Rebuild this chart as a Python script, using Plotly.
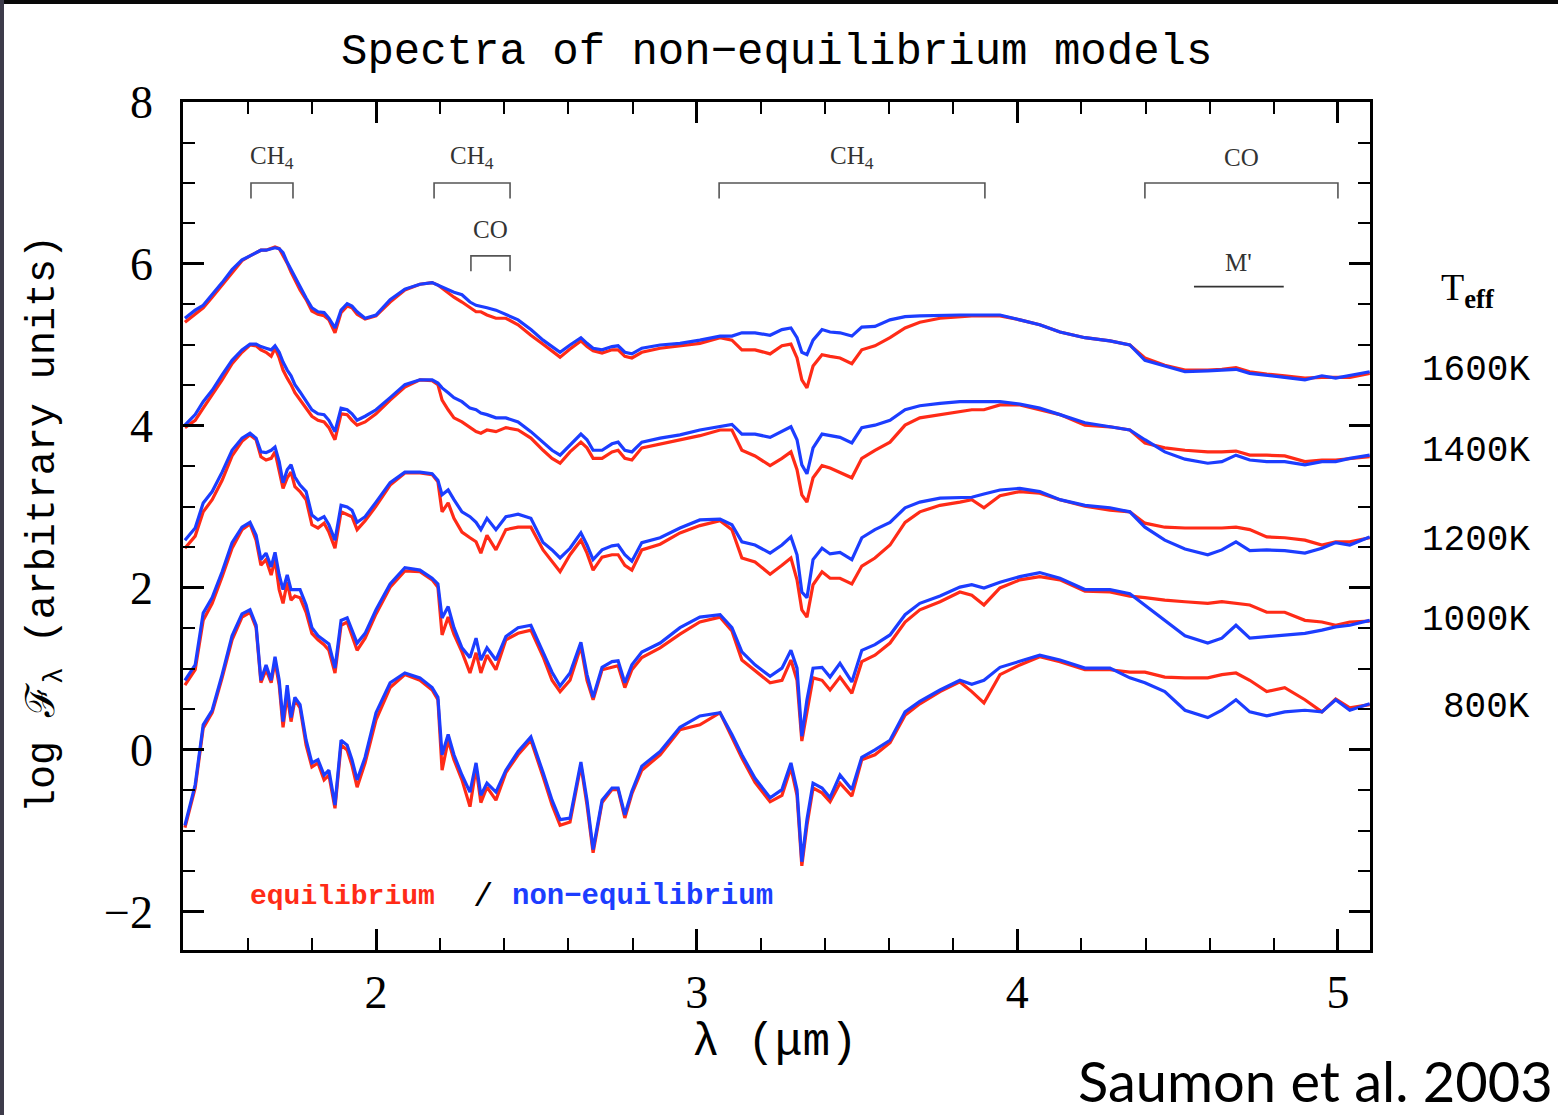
import plotly.graph_objects as go

# ---------------- data ----------------
wavelength = [
    1.404, 1.436, 1.461, 1.489, 1.520, 1.551, 1.582, 1.607, 1.626, 1.641,
    1.657, 1.673, 1.685, 1.698, 1.710, 1.723, 1.735, 1.747, 1.763, 1.782,
    1.800, 1.819, 1.838, 1.853, 1.872, 1.891, 1.910, 1.925, 1.941, 1.966,
    2.000, 2.044, 2.090, 2.137, 2.175, 2.193, 2.206, 2.225, 2.243, 2.268,
    2.293, 2.312, 2.327, 2.346, 2.374, 2.405, 2.443, 2.483, 2.521, 2.549,
    2.574, 2.605, 2.639, 2.658, 2.677, 2.705, 2.736, 2.755, 2.776, 2.798,
    2.829, 2.886, 2.948, 3.010, 3.073, 3.110, 3.141, 3.182, 3.229, 3.266,
    3.294, 3.313, 3.328, 3.344, 3.363, 3.391, 3.416, 3.447, 3.484, 3.515,
    3.556, 3.603, 3.650, 3.696, 3.759, 3.821, 3.858, 3.896, 3.946, 4.008,
    4.070, 4.133, 4.211, 4.289, 4.351, 4.398, 4.460, 4.523, 4.594, 4.638,
    4.682, 4.725, 4.778, 4.834, 4.897, 4.950, 4.993, 5.037, 5.099,
]

noneq_1600 = [
    5.33, 5.43, 5.49, 5.62, 5.77, 5.93, 6.05, 6.10, 6.14, 6.17,
    6.17, 6.19, 6.20, 6.19, 6.14, 6.02, 5.93, 5.83, 5.72, 5.58,
    5.46, 5.41, 5.40, 5.33, 5.21, 5.43, 5.51, 5.48, 5.41, 5.33,
    5.37, 5.56, 5.69, 5.75, 5.77, 5.74, 5.72, 5.69, 5.65, 5.62,
    5.53, 5.49, 5.48, 5.46, 5.43, 5.38, 5.31, 5.19, 5.06, 4.98,
    4.91, 5.00, 5.09, 5.02, 4.96, 4.94, 4.98, 4.99, 4.91, 4.89,
    4.96, 5.00, 5.02, 5.06, 5.11, 5.11, 5.15, 5.15, 5.12, 5.19,
    5.21, 5.09, 4.91, 4.88, 5.06, 5.19, 5.16, 5.15, 5.11, 5.22,
    5.23, 5.31, 5.35, 5.36, 5.37, 5.37, 5.37, 5.37, 5.37, 5.31,
    5.25, 5.16, 5.09, 5.05, 5.00, 4.81, 4.74, 4.67, 4.68, 4.69,
    4.70, 4.65, 4.63, 4.60, 4.57, 4.62, 4.59, 4.62, 4.67,
]
eq_1600 = [
    5.28, 5.38, 5.46, 5.59, 5.74, 5.90, 6.04, 6.10, 6.14, 6.17,
    6.17, 6.19, 6.21, 6.19, 6.11, 6.01, 5.90, 5.80, 5.68, 5.56,
    5.42, 5.38, 5.36, 5.31, 5.15, 5.40, 5.48, 5.46, 5.38, 5.32,
    5.36, 5.53, 5.68, 5.75, 5.77, 5.74, 5.70, 5.65, 5.59, 5.53,
    5.46, 5.41, 5.41, 5.37, 5.33, 5.33, 5.25, 5.12, 5.01, 4.93,
    4.85, 4.95, 5.05, 4.98, 4.93, 4.90, 4.94, 4.94, 4.86, 4.84,
    4.91, 4.96, 4.99, 5.02, 5.09, 5.06, 4.94, 4.94, 4.89, 4.99,
    5.01, 4.84, 4.57, 4.47, 4.74, 4.88, 4.86, 4.84, 4.77, 4.94,
    4.99, 5.09, 5.21, 5.28, 5.33, 5.35, 5.36, 5.36, 5.36, 5.31,
    5.25, 5.16, 5.09, 5.05, 5.00, 4.84, 4.75, 4.69, 4.69, 4.70,
    4.72, 4.67, 4.64, 4.62, 4.59, 4.60, 4.60, 4.60, 4.65,
]

noneq_1400 = [
    4.01, 4.14, 4.30, 4.44, 4.63, 4.81, 4.94, 5.01, 5.01, 4.98,
    4.96, 4.94, 4.99, 4.91, 4.79, 4.69, 4.62, 4.51, 4.42, 4.30,
    4.20, 4.15, 4.14, 4.07, 3.93, 4.22, 4.20, 4.15, 4.07, 4.12,
    4.20, 4.35, 4.51, 4.57, 4.57, 4.53, 4.47, 4.41, 4.35, 4.30,
    4.22, 4.20, 4.16, 4.14, 4.10, 4.10, 4.05, 3.93, 3.80, 3.70,
    3.64, 3.77, 3.90, 3.83, 3.70, 3.70, 3.78, 3.80, 3.70, 3.68,
    3.80, 3.85, 3.89, 3.95, 4.00, 4.02, 3.90, 3.90, 3.86, 3.93,
    3.99, 3.83, 3.52, 3.41, 3.73, 3.90, 3.88, 3.86, 3.79, 3.98,
    4.01, 4.07, 4.20, 4.25, 4.28, 4.30, 4.30, 4.30, 4.30, 4.27,
    4.22, 4.14, 4.04, 3.99, 3.95, 3.83, 3.68, 3.59, 3.54, 3.56,
    3.64, 3.58, 3.56, 3.56, 3.52, 3.56, 3.56, 3.60, 3.64,
]
eq_1400 = [
    3.98, 4.07, 4.22, 4.38, 4.57, 4.77, 4.91, 5.00, 4.99, 4.94,
    4.91, 4.86, 4.96, 4.84, 4.69, 4.59, 4.51, 4.41, 4.32, 4.22,
    4.12, 4.07, 4.05, 3.98, 3.83, 4.15, 4.14, 4.07, 4.01, 4.05,
    4.15, 4.32, 4.48, 4.57, 4.56, 4.51, 4.32, 4.20, 4.10, 4.05,
    3.98, 3.93, 3.91, 3.95, 3.93, 3.98, 3.95, 3.85, 3.70, 3.60,
    3.54, 3.68, 3.80, 3.73, 3.60, 3.60, 3.68, 3.70, 3.60, 3.58,
    3.73, 3.78, 3.83, 3.88, 3.95, 3.95, 3.70, 3.63, 3.51, 3.60,
    3.68, 3.46, 3.15, 3.06, 3.36, 3.51, 3.48, 3.43, 3.36, 3.60,
    3.70, 3.80, 4.01, 4.10, 4.14, 4.17, 4.20, 4.20, 4.26, 4.26,
    4.20, 4.14, 4.01, 3.99, 3.95, 3.79, 3.73, 3.70, 3.68, 3.68,
    3.69, 3.64, 3.64, 3.63, 3.56, 3.58, 3.58, 3.60, 3.62,
]

noneq_1200 = [
    2.59, 2.74, 3.05, 3.19, 3.43, 3.70, 3.85, 3.91, 3.85, 3.68,
    3.67, 3.70, 3.74, 3.56, 3.30, 3.46, 3.52, 3.37, 3.27, 3.19,
    2.90, 2.84, 2.88, 2.78, 2.59, 3.02, 3.00, 2.96, 2.81, 2.88,
    3.06, 3.30, 3.43, 3.43, 3.41, 3.33, 3.15, 3.21, 3.09, 2.94,
    2.88, 2.81, 2.72, 2.86, 2.72, 2.88, 2.91, 2.86, 2.56, 2.47,
    2.37, 2.49, 2.68, 2.53, 2.35, 2.47, 2.52, 2.53, 2.41, 2.33,
    2.56, 2.62, 2.74, 2.84, 2.85, 2.78, 2.57, 2.53, 2.43, 2.53,
    2.63, 2.41, 1.95, 1.88, 2.35, 2.49, 2.42, 2.44, 2.35, 2.62,
    2.72, 2.81, 2.99, 3.06, 3.11, 3.12, 3.12, 3.16, 3.21, 3.23,
    3.19, 3.09, 3.02, 2.99, 2.94, 2.75, 2.59, 2.48, 2.41, 2.47,
    2.57, 2.46, 2.47, 2.46, 2.43, 2.49, 2.56, 2.53, 2.63,
]
eq_1200 = [
    2.49, 2.64, 2.94, 3.09, 3.33, 3.63, 3.81, 3.89, 3.83, 3.62,
    3.58, 3.60, 3.68, 3.46, 3.23, 3.36, 3.43, 3.25, 3.19, 3.09,
    2.78, 2.74, 2.80, 2.69, 2.49, 2.94, 2.91, 2.88, 2.72, 2.83,
    3.01, 3.27, 3.42, 3.42, 3.40, 3.31, 2.94, 3.05, 2.86, 2.69,
    2.62, 2.57, 2.43, 2.65, 2.47, 2.72, 2.75, 2.75, 2.47, 2.32,
    2.20, 2.41, 2.59, 2.43, 2.22, 2.38, 2.41, 2.41, 2.28, 2.22,
    2.47, 2.54, 2.68, 2.77, 2.83, 2.72, 2.37, 2.32, 2.17, 2.28,
    2.37, 2.10, 1.73, 1.64, 2.04, 2.20, 2.12, 2.12, 2.05, 2.27,
    2.37, 2.53, 2.81, 2.94, 3.02, 3.06, 3.09, 2.99, 3.14, 3.19,
    3.17, 3.09, 3.01, 2.96, 2.94, 2.80, 2.75, 2.74, 2.74, 2.74,
    2.75, 2.72, 2.63, 2.62, 2.59, 2.53, 2.57, 2.57, 2.62,
]

noneq_1000 = [
    0.86, 1.05, 1.69, 1.88, 2.20, 2.56, 2.75, 2.81, 2.65, 2.35,
    2.43, 2.26, 2.44, 2.16, 1.98, 2.16, 1.98, 1.98, 1.98, 1.79,
    1.51, 1.41, 1.36, 1.31, 1.01, 1.60, 1.63, 1.48, 1.32, 1.44,
    1.73, 2.05, 2.25, 2.22, 2.12, 2.05, 1.63, 1.77, 1.51, 1.26,
    1.14, 1.38, 1.11, 1.26, 1.11, 1.40, 1.51, 1.54, 1.21, 0.96,
    0.79, 0.95, 1.33, 0.93, 0.65, 1.02, 1.09, 1.10, 0.83, 1.05,
    1.21, 1.32, 1.51, 1.64, 1.67, 1.51, 1.21, 1.05, 0.91, 1.01,
    1.23, 1.01, 0.17, 0.62, 1.01, 1.02, 0.90, 1.07, 0.84, 1.23,
    1.30, 1.42, 1.67, 1.81, 1.90, 2.01, 2.04, 2.00, 2.07, 2.14,
    2.19, 2.12, 1.98, 1.98, 1.93, 1.79, 1.60, 1.41, 1.32, 1.38,
    1.54, 1.38, 1.40, 1.42, 1.44, 1.48, 1.52, 1.54, 1.60,
]
eq_1000 = [
    0.80, 0.99, 1.60, 1.81, 2.14, 2.49, 2.72, 2.79, 2.59, 2.28,
    2.35, 2.16, 2.35, 1.98, 1.81, 2.07, 1.85, 1.90, 1.88, 1.70,
    1.44, 1.36, 1.30, 1.23, 0.95, 1.54, 1.58, 1.41, 1.23, 1.38,
    1.68, 2.01, 2.21, 2.20, 2.10, 2.01, 1.42, 1.64, 1.43, 1.21,
    0.95, 1.20, 0.95, 1.17, 0.99, 1.36, 1.44, 1.48, 1.15, 0.86,
    0.72, 0.86, 1.28, 0.86, 0.62, 0.99, 1.02, 1.04, 0.77, 0.99,
    1.14, 1.26, 1.43, 1.58, 1.64, 1.47, 1.11, 0.98, 0.83, 0.86,
    1.11, 0.86, 0.11, 0.47, 0.89, 0.86, 0.74, 0.90, 0.70, 1.09,
    1.17, 1.32, 1.58, 1.73, 1.83, 1.95, 1.91, 1.79, 2.00, 2.10,
    2.14, 2.10, 1.96, 1.95, 1.90, 1.88, 1.85, 1.83, 1.81, 1.83,
    1.81, 1.79, 1.70, 1.70, 1.60, 1.58, 1.54, 1.58, 1.59,
]

noneq_800 = [
    -0.93, -0.43, 0.31, 0.49, 0.93, 1.41, 1.68, 1.73, 1.54, 0.86,
    1.05, 0.86, 1.15, 0.86, 0.35, 0.80, 0.40, 0.65, 0.56, 0.12,
    -0.16, -0.12, -0.31, -0.25, -0.68, 0.12, 0.06, -0.12, -0.37, -0.09,
    0.46, 0.83, 0.95, 0.89, 0.77, 0.65, -0.06, 0.19, -0.06, -0.31,
    -0.52, -0.16, -0.56, -0.41, -0.52, -0.25, -0.02, 0.16, -0.28, -0.62,
    -0.86, -0.84, -0.15, -0.62, -1.23, -0.62, -0.47, -0.47, -0.80, -0.51,
    -0.20, -0.02, 0.28, 0.42, 0.46, 0.19, -0.06, -0.35, -0.59, -0.49,
    -0.16, -0.49, -1.38, -0.86, -0.41, -0.47, -0.59, -0.31, -0.49, -0.09,
    0.00, 0.12, 0.47, 0.60, 0.74, 0.86, 0.81, 0.86, 1.02, 1.09,
    1.17, 1.11, 1.01, 1.01, 0.89, 0.83, 0.72, 0.49, 0.40, 0.49,
    0.62, 0.47, 0.42, 0.47, 0.49, 0.47, 0.62, 0.49, 0.57,
]
eq_800 = [
    -0.96, -0.47, 0.27, 0.46, 0.89, 1.36, 1.64, 1.70, 1.51, 0.83,
    0.99, 0.83, 1.09, 0.80, 0.28, 0.68, 0.35, 0.62, 0.52, 0.06,
    -0.21, -0.16, -0.37, -0.31, -0.72, 0.06, 0.00, -0.19, -0.46, -0.16,
    0.37, 0.77, 0.93, 0.86, 0.74, 0.62, -0.25, 0.12, -0.12, -0.37,
    -0.70, -0.22, -0.65, -0.46, -0.62, -0.28, -0.06, 0.12, -0.33, -0.68,
    -0.93, -0.89, -0.19, -0.68, -1.27, -0.65, -0.49, -0.49, -0.84, -0.54,
    -0.25, -0.06, 0.25, 0.31, 0.46, 0.15, -0.10, -0.40, -0.64, -0.56,
    -0.22, -0.56, -1.43, -0.93, -0.47, -0.53, -0.64, -0.41, -0.57, -0.12,
    -0.06, 0.09, 0.43, 0.57, 0.72, 0.84, 0.72, 0.58, 0.93, 1.05,
    1.15, 1.09, 0.99, 0.99, 0.96, 0.96, 0.90, 0.89, 0.89, 0.93,
    0.95, 0.86, 0.72, 0.77, 0.62, 0.47, 0.63, 0.52, 0.56,
]

temperatures = ["1600K", "1400K", "1200K", "1000K", "800K"]
label_levels = [4.69, 3.68, 2.59, 1.60, 0.52]   # log F where each label sits
eq_series = [eq_1600, eq_1400, eq_1200, eq_1000, eq_800]
noneq_series = [noneq_1600, noneq_1400, noneq_1200, noneq_1000, noneq_800]

# absorption band markers: (label, lambda start, lambda end, level)
band_labels = ["CH<sub>4</sub>", "CH<sub>4</sub>", "CO", "CH<sub>4</sub>", "CO"]
band_start = [1.610, 2.181, 2.296, 3.070, 4.398]
band_end = [1.741, 2.418, 2.418, 3.899, 5.000]
band_level = [7.00, 7.00, 6.10, 7.00, 7.00]
filter_label = "M'"
filter_start, filter_end, filter_level = 4.551, 4.831, 5.72

x_range = [1.398, 5.10]
y_range = [-2.47, 8.0]

# ---------------- figure ----------------
W, H = 1558, 1115
ML, MR, MT, MB = 183, 188, 102, 165
PW, PH = W - ML - MR, H - MT - MB


def px_x(px):
    return (px - ML) / PW


def px_y(py):
    return (H - MB - py) / PH


RED = "#ff2b17"
BLUE = "#1c3dff"

for s in eq_series + noneq_series:
    assert len(s) == len(wavelength), len(s)

fig = go.Figure()
for t, eq in zip(temperatures, eq_series):
    fig.add_trace(go.Scatter(x=wavelength, y=eq, mode="lines", name=f"equilibrium {t}",
                             line=dict(color=RED, width=3.2), showlegend=False))
for t, ne in zip(temperatures, noneq_series):
    fig.add_trace(go.Scatter(x=wavelength, y=ne, mode="lines", name=f"non-equilibrium {t}",
                             line=dict(color=BLUE, width=3.2), showlegend=False))

shapes = []
annotations = []
GRAY = "#555555"
leg = 0.19
for lab, a, b, lv in zip(band_labels, band_start, band_end, band_level):
    shapes.append(dict(type="path", xref="x", yref="y",
                       path=f"M {a} {lv-leg} L {a} {lv} L {b} {lv} L {b} {lv-leg}",
                       line=dict(color=GRAY, width=1.6)))
    annotations.append(dict(x=(a + b) / 2, y=lv + 0.32, xref="x", yref="y", text=lab,
                            xanchor="center", yanchor="middle", showarrow=False,
                            font=dict(family="Liberation Serif", size=25, color="#333333")))
shapes.append(dict(type="line", xref="x", yref="y", x0=filter_start, x1=filter_end,
                   y0=filter_level, y1=filter_level, line=dict(color="#333333", width=1.6)))
annotations.append(dict(x=(filter_start + filter_end) / 2, y=filter_level + 0.30, xref="x", yref="y",
                        text=filter_label, xanchor="center", yanchor="middle", showarrow=False,
                        font=dict(family="Liberation Serif", size=25, color="#333333")))

# temperature labels on the right
for t, lv in zip(temperatures, label_levels):
    annotations.append(dict(x=px_x(1532), y=lv, xref="paper", yref="y", text=t,
                            xanchor="right", yanchor="middle", showarrow=False,
                            font=dict(family="Liberation Mono", size=36, color="black")))
annotations.append(dict(x=px_x(1468), y=5.68, xref="paper", yref="y",
                        text="T<sub><b>eff</b></sub>", xanchor="center", yanchor="middle",
                        showarrow=False, font=dict(family="Liberation Serif", size=38, color="black")))

# legend-like text
annotations += [
    dict(x=1.601, y=-1.81, xref="x", yref="y", text="<b>equilibrium</b>", xanchor="left",
         yanchor="middle", showarrow=False, font=dict(family="Liberation Mono", size=28, color=RED)),
    dict(x=2.334, y=-1.81, xref="x", yref="y", text="/", xanchor="center",
         yanchor="middle", showarrow=False, font=dict(family="Liberation Mono", size=34, color="black")),
    dict(x=2.419, y=-1.81, xref="x", yref="y", text="<b>non−equilibrium</b>", xanchor="left",
         yanchor="middle", showarrow=False, font=dict(family="Liberation Mono", size=29, color=BLUE)),
]

# title and axis titles
annotations += [
    dict(x=px_x(777), y=px_y(52), xref="paper", yref="paper", xanchor="center", yanchor="middle",
         text="Spectra of non−equilibrium models", showarrow=False,
         font=dict(family="Liberation Mono", size=44, color="black")),
    dict(x=px_x(775), y=px_y(1043), xref="paper", yref="paper", xanchor="center", yanchor="middle",
         text="λ (μm)", showarrow=False,
         font=dict(family="Liberation Mono", size=46, color="black")),
    dict(x=px_x(45), y=px_y(524), xref="paper", yref="paper", xanchor="center", yanchor="middle",
         text="log ℱ<sub>λ</sub> (arbitrary units)", textangle=-90, showarrow=False,
         font=dict(family="Liberation Mono", size=40, color="black")),
    dict(x=px_x(1555), y=px_y(1080), xref="paper", yref="paper", xanchor="right", yanchor="middle",
         text="Saumon et al. 2003", showarrow=False,
         font=dict(family="Lato", size=56, color="black")),
]

# dark frame along top and left edges of the page
shapes += [
    dict(type="rect", xref="paper", yref="paper", x0=px_x(0), x1=px_x(W),
         y0=px_y(4), y1=px_y(0), fillcolor="#080808", line=dict(width=0), layer="above"),
    dict(type="rect", xref="paper", yref="paper", x0=px_x(0), x1=px_x(4),
         y0=px_y(H), y1=px_y(0), fillcolor="#3d3b4a", line=dict(width=0), layer="above"),
]

axis_common = dict(showgrid=False, zeroline=False, showline=True, linecolor="black", linewidth=2.5,
                   mirror="allticks", ticks="inside", tickcolor="black", tickwidth=2.5,
                   tickfont=dict(family="Liberation Serif", size=46, color="black"))

fig.update_layout(
    width=W, height=H, margin=dict(l=ML, r=MR, t=MT, b=MB),
    paper_bgcolor="white", plot_bgcolor="white",
    xaxis=dict(range=x_range, dtick=1, tick0=0, ticklen=21, ticklabelstandoff=0,
               minor=dict(dtick=0.2, tick0=0, ticks="inside", ticklen=12, tickwidth=2.2, tickcolor="black"),
               **axis_common),
    yaxis=dict(range=y_range, dtick=2, tick0=0, ticklen=21, ticklabelstandoff=18,
               minor=dict(dtick=0.5, tick0=0, ticks="inside", ticklen=12, tickwidth=2.2, tickcolor="black"),
               **axis_common),
    shapes=shapes, annotations=annotations,
)

fig.write_html("out.html")
